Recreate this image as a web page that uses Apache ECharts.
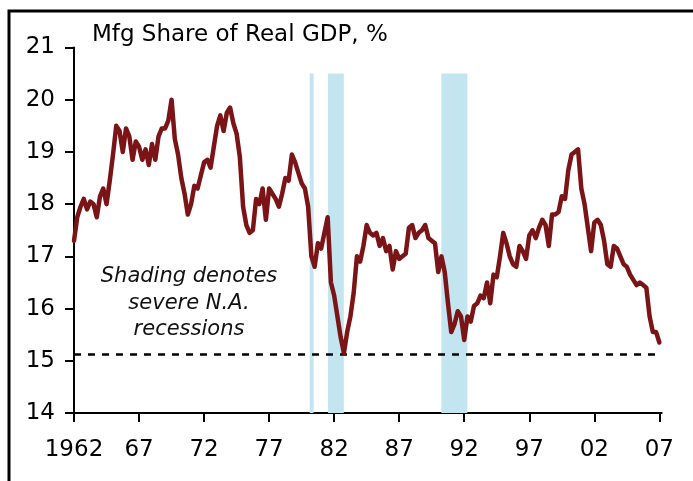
<!DOCTYPE html>
<html>
<head>
<meta charset="utf-8">
<script src="https://cdn.jsdelivr.net/npm/echarts@6/dist/echarts.min.js"></script>
<style>
  html, body { margin: 0; padding: 0; background: #fff; }
  #chart { width: 693px; height: 481px; }
</style>
</head>
<body>
<div id="chart"></div>
<script>
// ---------- data ----------
const startYear = 1962;
const titleText = 'Mfg Share of Real GDP, %';
const noteLines = ['Shading denotes', 'severe N.A.', 'recessions'];
// quarterly values, Q1 1962 .. Q1 2007
const mfgShare = [
  17.3, 17.75, 17.95, 18.1,    // 1962
  17.9, 18.05, 18.0, 17.75,    // 1963
  18.15, 18.3, 18.0, 18.45,    // 1964
  18.95, 19.5, 19.4, 19.0,     // 1965
  19.45, 19.3, 18.85, 19.2,    // 1966
  19.1, 18.85, 19.05, 18.75,   // 1967
  19.15, 18.85, 19.3, 19.45,   // 1968
  19.45, 19.6, 20.0, 19.25,    // 1969
  18.95, 18.5, 18.2, 17.8,     // 1970
  18.0, 18.35, 18.3, 18.55,    // 1971
  18.8, 18.85, 18.7, 19.1,     // 1972
  19.5, 19.7, 19.4, 19.75,     // 1973
  19.85, 19.55, 19.35, 18.9,   // 1974
  17.95, 17.6, 17.45, 17.5,    // 1975
  18.1, 18.0, 18.3, 17.7,      // 1976
  18.3, 18.2, 18.1, 17.95,     // 1977
  18.2, 18.5, 18.45, 18.95,    // 1978
  18.8, 18.6, 18.4, 18.3,      // 1979
  17.95, 17.0, 16.8, 17.25,    // 1980
  17.15, 17.45, 17.75, 16.5,   // 1981
  16.25, 15.85, 15.45, 15.15,  // 1982
  15.55, 15.85, 16.3, 17.0,    // 1983
  16.9, 17.2, 17.6, 17.45,     // 1984
  17.4, 17.45, 17.2, 17.35,    // 1985
  17.1, 17.2, 16.75, 17.1,     // 1986
  16.95, 17.0, 17.05, 17.55,   // 1987
  17.6, 17.35, 17.45, 17.5,    // 1988
  17.6, 17.35, 17.3, 17.25,    // 1989
  16.7, 17.0, 16.7, 16.1,      // 1990
  15.55, 15.7, 15.95, 15.85,   // 1991
  15.4, 15.85, 15.75, 16.05,   // 1992
  16.1, 16.25, 16.2, 16.5,     // 1993
  16.1, 16.65, 16.6, 17.0,     // 1994
  17.45, 17.25, 17.0, 16.85,   // 1995
  16.8, 17.2, 17.1, 16.95,     // 1996
  17.4, 17.5, 17.35, 17.55,    // 1997
  17.7, 17.6, 17.2, 17.8,      // 1998
  17.8, 17.85, 18.15, 18.1,    // 1999
  18.65, 18.95, 19.0, 19.05,   // 2000
  18.3, 18.0, 17.55, 17.1,     // 2001
  17.65, 17.7, 17.6, 17.3,     // 2002
  16.85, 16.8, 17.2, 17.15,    // 2003
  17.0, 16.85, 16.8, 16.65,    // 2004
  16.55, 16.45, 16.5, 16.45,   // 2005
  16.4, 15.85, 15.55, 15.55,   // 2006
  15.35                        // 2007
];
const recessionStart = [1980.12, 1981.53, 1990.24];
const recessionEnd   = [1980.42, 1982.74, 1992.24];
const recessionTop = 20.5;
const floorLevel = 15.12;
const xTickYears = [1962, 1967, 1972, 1977, 1982, 1987, 1992, 1997, 2002, 2007];
const xTickLabels = ['1962', '67', '72', '77', '82', '87', '92', '97', '02', '07'];
const yMin = 14, yMax = 21;
const lastYear = 2007.18;

// ---------- build ----------
const lineData = mfgShare.map((v, i) => [i * 0.25, v]);
const tickOffsets = xTickYears.map(y => y - startYear);
const labelMap = {};
tickOffsets.forEach((t, i) => { labelMap[t] = xTickLabels[i]; });
const areas = recessionStart.map((s, i) => [
  { coord: [s - startYear, yMin] },
  { coord: [recessionEnd[i] - startYear, recessionTop] }
]);
const xMax = lastYear - startYear;

const chart = echarts.init(document.getElementById('chart'), null, { renderer: 'canvas' });
const fontFam = '"DejaVu Sans", Verdana, sans-serif';
chart.setOption({
  animation: false,
  backgroundColor: '#fff',
  grid: { left: 74, right: 31.3, top: 47.5, bottom: 68, containLabel: false },
  xAxis: {
    type: 'value', min: 0, max: xMax,
    axisLine: { show: true, lineStyle: { color: '#000', width: 2 } },
    axisTick: { show: true, inside: false, length: 9, customValues: tickOffsets, lineStyle: { color: '#000', width: 2 } },
    axisLabel: { show: true, customValues: tickOffsets, margin: 26, color: '#000', fontSize: 23, fontFamily: fontFam,
      formatter: v => labelMap[Math.round(v)] || '' },
    splitLine: { show: false }
  },
  yAxis: {
    type: 'value', min: yMin, max: yMax, interval: 1,
    axisLine: { show: true, lineStyle: { color: '#000', width: 2 } },
    axisTick: { show: true, inside: false, length: 9, lineStyle: { color: '#000', width: 2 } },
    axisLabel: { margin: 19, color: '#000', fontSize: 23, fontFamily: fontFam },
    splitLine: { show: false }
  },
  series: [
    {
      type: 'line', data: lineData, showSymbol: false, z: 3,
      lineStyle: { color: '#7b1416', width: 4.5, join: 'round', cap: 'round' },
      markArea: { silent: true, itemStyle: { color: '#c2e5ef' }, data: areas }
    },
    {
      type: 'line', data: [[0, floorLevel], [xMax, floorLevel]], showSymbol: false, z: 2,
      lineStyle: { color: '#000', width: 2.5, type: [7, 7] }
    }
  ],
  graphic: [
    { type: 'rect', shape: { x: 9, y: 11, width: 720, height: 520 },
      style: { fill: 'none', stroke: '#000', lineWidth: 3 }, silent: true },
    { type: 'text', x: 92, y: 35, style: { text: titleText, fontSize: 23, fontFamily: fontFam, fill: '#000', verticalAlign: 'middle' } },
    { type: 'text', x: 189, y: 277, style: { text: noteLines[0], fontSize: 21, fontStyle: 'italic', fontFamily: fontFam, fill: '#111', align: 'center', verticalAlign: 'middle' } },
    { type: 'text', x: 189, y: 303.5, style: { text: noteLines[1], fontSize: 21, fontStyle: 'italic', fontFamily: fontFam, fill: '#111', align: 'center', verticalAlign: 'middle' } },
    { type: 'text', x: 189, y: 330, style: { text: noteLines[2], fontSize: 21, fontStyle: 'italic', fontFamily: fontFam, fill: '#111', align: 'center', verticalAlign: 'middle' } }
  ]
});
</script>
</body>
</html>
